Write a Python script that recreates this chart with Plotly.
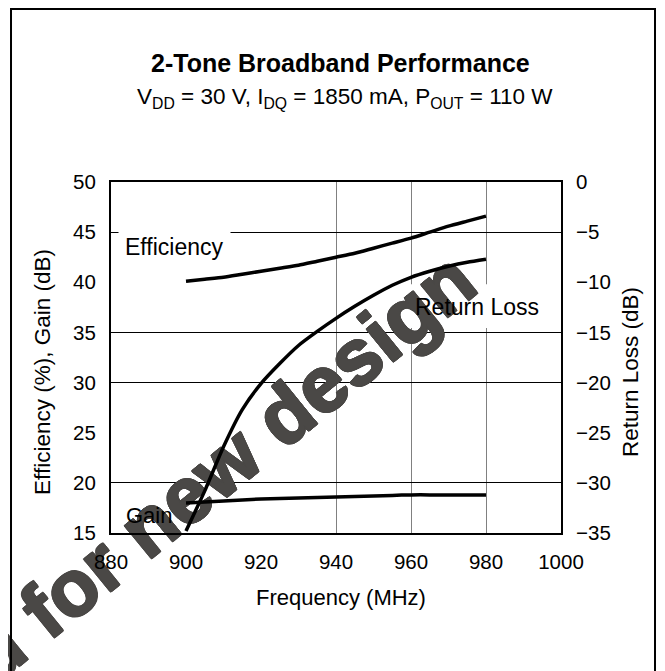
import plotly.graph_objects as go

# ---- data ----
freq = [900, 905, 910, 915, 920, 925, 930, 935, 940, 945, 950, 955, 960, 965, 970, 975, 980]
efficiency = [40.1, 40.3, 40.5, 40.8, 41.1, 41.4, 41.7, 42.1, 42.5, 42.9, 43.4, 43.9, 44.4, 45.0, 45.6, 46.1, 46.6]
gain = [18.0, 18.1, 18.2, 18.3, 18.4, 18.45, 18.5, 18.55, 18.6, 18.65, 18.7, 18.75, 18.8, 18.8, 18.8, 18.8, 18.8]
return_loss = [-34.8, -30.8, -26.4, -22.7, -20.1, -18.1, -16.3, -14.9, -13.6, -12.4, -11.3, -10.3, -9.5, -8.9, -8.4, -8.0, -7.7]

x_ticks = [880, 900, 920, 940, 960, 980, 1000]
left_ticks = [15, 20, 25, 30, 35, 40, 45, 50]
right_ticks = [-35, -30, -25, -20, -15, -10, -5, 0]
v_grid = [940, 960, 980]
h_grid = [20, 30, 35, 45]

FONT = "Arial, Liberation Sans, sans-serif"
WM_FONT = "Liberation Sans, Arial, sans-serif"
WM_TEXT = "<b>Not recommended for new design</b>"
WM_COLOR = "#4a4846"

fig = go.Figure()

# invisible trace to activate grid overlay axes
fig.add_trace(go.Scatter(x=freq, y=gain, xaxis="x2", yaxis="y3", mode="none",
                         hoverinfo="skip", showlegend=False))

line_style = dict(color="black", width=3.5, shape="spline", smoothing=0.6)
fig.add_trace(go.Scatter(x=freq, y=efficiency, mode="lines", line=line_style,
                         name="Efficiency", showlegend=False))
fig.add_trace(go.Scatter(x=freq, y=gain, mode="lines", line=line_style,
                         name="Gain", showlegend=False))
fig.add_trace(go.Scatter(x=freq, y=return_loss, mode="lines", line=line_style,
                         yaxis="y2", name="Return Loss", showlegend=False))

tickfont = dict(family=FONT, size=20.5, color="black")

fig.update_layout(
    width=665, height=671,
    margin=dict(l=103, r=112, t=174, b=146),
    paper_bgcolor="white", plot_bgcolor="white",
    font=dict(family=FONT, color="black"),
    xaxis=dict(range=[880, 1000], tickvals=x_ticks, ticks="", showgrid=False,
               zeroline=False, showline=True, linecolor="black", linewidth=2,
               mirror=True, tickfont=tickfont, ticklabelstandoff=9),
    xaxis2=dict(range=[880, 1000], overlaying="x", tickvals=v_grid, showticklabels=False,
                ticks="", showgrid=True, gridcolor="#808080", gridwidth=1.3,
                zeroline=False, showline=False),
    yaxis=dict(range=[15, 50], tickvals=left_ticks, ticks="", showgrid=False,
               zeroline=False, showline=True, linecolor="black", linewidth=2,
               tickfont=tickfont, ticklabelstandoff=9),
    yaxis2=dict(range=[-35, 0], tickvals=right_ticks, ticks="", overlaying="y", side="right",
                showgrid=False, zeroline=False, showline=True, linecolor="black", linewidth=2,
                tickfont=tickfont, ticklabelstandoff=9),
    yaxis3=dict(range=[15, 50], overlaying="y", tickvals=h_grid, showticklabels=False,
                ticks="", showgrid=True, gridcolor="black", gridwidth=1,
                zeroline=False, showline=False),
)

anns = [
    dict(text="<b>2-Tone Broadband Performance</b>", x=0.509, y=1.338, font=dict(size=25)),
    dict(text="V<sub>DD</sub> = 30 V, I<sub>DQ</sub> = 1850 mA, P<sub>OUT</sub> = 110 W",
         x=0.519, y=1.239, font=dict(size=22.5)),
    dict(text="Frequency (MHz)", x=0.511, y=-0.185, font=dict(size=22)),
    dict(text="Efficiency (%), Gain (dB)", x=-0.151, y=0.459, textangle=-90, font=dict(size=22.5)),
    dict(text="Return Loss (dB)", x=1.156, y=0.459, textangle=-90, font=dict(size=22.5)),
    dict(text="Efficiency", x=0.141, y=0.816, font=dict(size=23), bgcolor="white", borderpad=6),
    dict(text="Return Loss", x=0.814, y=0.645, font=dict(size=23)),
    dict(text="Gain", x=0.084, y=0.051, font=dict(size=22)),
]
for a in anns:
    a.update(xref="paper", yref="paper", showarrow=False, xanchor="center", yanchor="middle")
    a["font"] = dict(family=FONT, color="black", **a["font"])
fig.update_layout(annotations=anns)

# white backing box behind the "Return Loss" label (above grid, below watermark)
fig.add_shape(type="rect", xref="x", yref="y", x0=958.9, x1=996.0, y0=35.45, y1=39.8,
              layer="between", line=dict(width=0), fillcolor="white")

shadow = ", ".join(f"{dx}px {dy}px 0 {WM_COLOR}" for dx, dy in
                   [(1, 0), (-1, 0), (0, 1), (0, -1), (1, 1), (-1, -1), (1, -1), (-1, 1)])
wm_label = dict(text=WM_TEXT, textposition="end", yanchor="middle", padding=0,
                font=dict(family=WM_FONT, size=79, color=WM_COLOR, shadow=shadow))
# watermark copy outside the axes (paper reference, beneath everything)
fig.add_shape(type="line", xref="paper", yref="paper",
              x0=-0.43267, y0=-0.49089, x1=0.77378, y1=0.76837, layer="below",
              line=dict(color="rgba(0,0,0,0)", width=1), label=wm_label)
# watermark copy inside the axes (above gridlines, below the curves)
fig.add_shape(type="line", xref="x", yref="y",
              x0=828.08, y0=-2.181, x1=972.853, y1=41.893, layer="between",
              line=dict(color="rgba(0,0,0,0)", width=1), label=wm_label)

# outer frame
fig.add_shape(type="rect", xref="paper", yref="paper",
              x0=-0.2222, x1=1.2089, y0=-0.45, y1=1.4929, layer="above",
              line=dict(color="black", width=2), fillcolor="rgba(0,0,0,0)")

fig.write_html("out.html")
